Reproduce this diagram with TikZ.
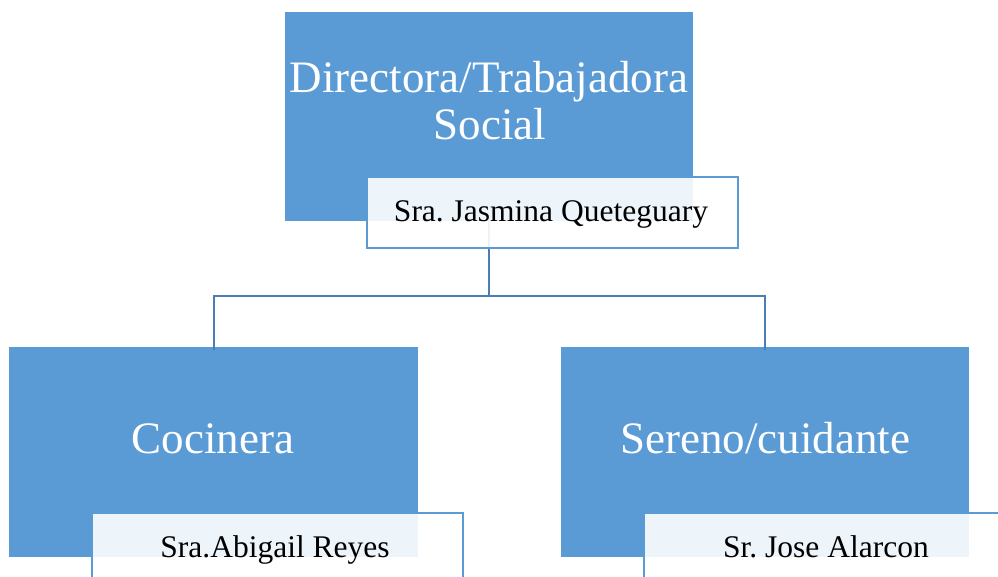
\documentclass[tikz,border=0pt]{standalone}
\usepackage{fontspec}
\setmainfont{Liberation Serif}
\definecolor{boxblue}{HTML}{5B9BD5}
\definecolor{linkblue}{HTML}{4A7EB5}
\frenchspacing
\begin{document}
\begin{tikzpicture}[x=1pt,y=-1pt,
  rolebox/.style={draw=none,fill=boxblue,rectangle,inner sep=0pt,anchor=north west},
  namebox/.style={draw=boxblue,line width=2pt,fill=white,fill opacity=0.9,rectangle,inner sep=0pt,anchor=north west},
  roletext/.style={text=white,font=\fontsize{45}{47}\selectfont,align=center,inner sep=0pt,anchor=base},
  nametext/.style={text=black,font=\fontsize{31.5}{34}\selectfont,inner sep=0pt,anchor=base},
  link/.style={draw=linkblue,line width=2pt}]
\useasboundingbox (0,0) rectangle (998,577);
\clip (0,0) rectangle (998,577);
% boxes (positions in px)
\node[rolebox,minimum width=408pt,minimum height=209pt] (top) at (285,12) {};
\node[rolebox,minimum width=409pt,minimum height=210pt] (cocina) at (9,347) {};
\node[rolebox,minimum width=408pt,minimum height=210pt] (sereno) at (561,347) {};
% connectors
\coordinate (bus) at (489,296);
\draw[link] (top.south) -- (top.south |- bus) -| ([yshift=-3pt]cocina.north);
\draw[link] (top.south |- bus) -| ([yshift=-3pt]sereno.north);
% name boxes
\node[namebox,minimum width=371pt,minimum height=71pt] (n1) at (366,176) {};
\node[namebox,minimum width=371pt,minimum height=80pt] (n2) at (91,512) {};
\node[namebox,minimum width=370pt,minimum height=80pt] (n3) at (643,512) {};
% texts
\node[roletext] (t1) at (489,93) {Directora/Trabajadora};
\node[roletext] (t1b) at (490,140) {Social};
\node[roletext] (t2) at (213,453) {Cocinera};
\node[roletext] (t3) at (765,453) {Sereno/cuidante};
\node[nametext] (m1) at (551,222) {Sra. Jasmina Queteguary};
\node[nametext] (m2) at (275,557) {Sra.Abigail Reyes};
\node[nametext] (m3) at (826,557) {Sr. Jose Alarcon};
\end{tikzpicture}
\end{document}
